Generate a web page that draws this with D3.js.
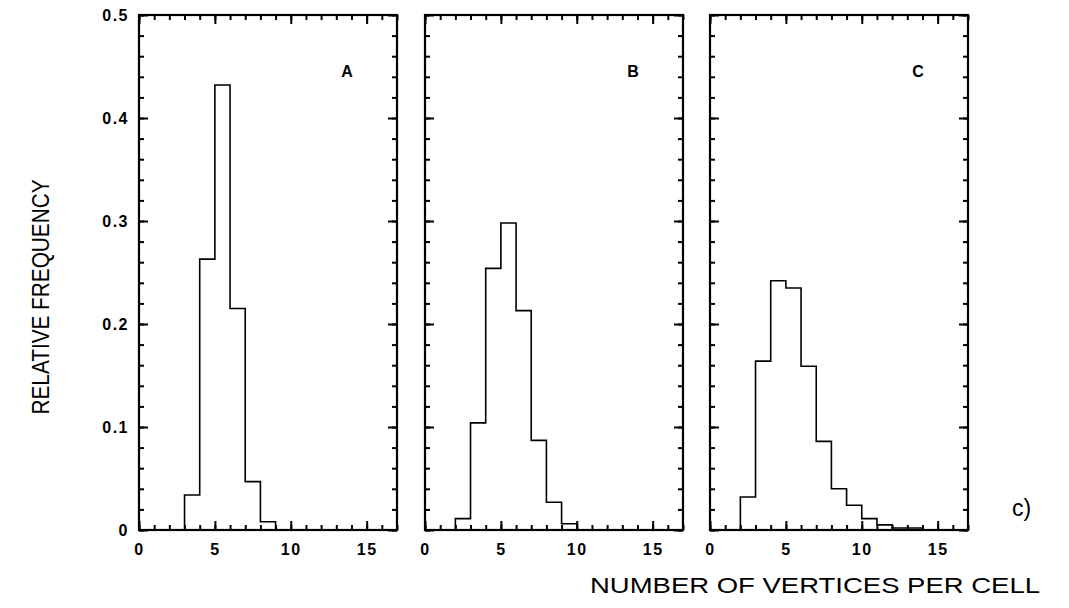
<!DOCTYPE html>
<html>
<head>
<meta charset="utf-8">
<script src="https://cdn.jsdelivr.net/npm/d3@7"></script>
<style>
  body { margin: 0; background: #fff; }
  text { font-family: "Liberation Sans", Arial, sans-serif; fill: #000; }
</style>
</head>
<body>
<svg id="chart"></svg>
<script>
// histogram data, bins are [start, start + 1]
const panelNames = ["A", "B", "C"]

const binsA = [3, 4, 5, 6, 7, 8]
const freqA = [0.034, 0.263, 0.432, 0.215, 0.047, 0.008]

const binsB = [2, 3, 4, 5, 6, 7, 8, 9]
const freqB = [0.011, 0.104, 0.254, 0.298, 0.213, 0.087, 0.027, 0.006]

const binsC = [2, 3, 4, 5, 6, 7, 8, 9, 10, 11, 12, 13]
const freqC = [0.032, 0.164, 0.242, 0.235, 0.159, 0.086, 0.040, 0.024, 0.011, 0.005, 0.002, 0.002]

const xTicks = [0, 5, 10, 15]
const yTicks = [0, 0.1, 0.2, 0.3, 0.4, 0.5]

const width = 1069
const height = 608

const svg = d3.select("#chart").attr("width", width).attr("height", height)

const panelLeft = [139, 425, 710]
const panelWidth = 258
const plotTop = 15, plotBottom = 530

const y = d3.scaleLinear().domain([0, 0.5]).range([plotBottom, plotTop])

const panels = [
	{name: panelNames[0], bins: binsA, freq: freqA},
	{name: panelNames[1], bins: binsB, freq: freqB},
	{name: panelNames[2], bins: binsC, freq: freqC}
]

panels.forEach(function(p, i) {
	const left = panelLeft[i]
	const x = d3.scaleLinear().domain([0, 17]).range([left, left + panelWidth])
	const g = svg.append("g")

	// minor ticks
	const minor = g.append("g").attr("class", "minor")
	minor.append("g").attr("transform", "translate(0," + plotBottom + ")")
		.call(d3.axisBottom(x).ticks(17).tickSize(-5).tickFormat(""))
	minor.append("g").attr("transform", "translate(0," + plotTop + ")")
		.call(d3.axisTop(x).ticks(17).tickSize(-5).tickFormat(""))
	minor.append("g").attr("transform", "translate(" + left + ",0)")
		.call(d3.axisLeft(y).ticks(25).tickSize(-5).tickFormat(""))
	minor.append("g").attr("transform", "translate(" + (left + panelWidth) + ",0)")
		.call(d3.axisRight(y).ticks(25).tickSize(-5).tickFormat(""))

	// major ticks
	const major = g.append("g").attr("class", "major")
	major.append("g").attr("class", "x-axis").attr("transform", "translate(0," + plotBottom + ")")
		.call(d3.axisBottom(x).tickValues(xTicks).tickSize(-9).tickPadding(14))
	major.append("g").attr("transform", "translate(0," + plotTop + ")")
		.call(d3.axisTop(x).tickValues(xTicks).tickSize(-9).tickFormat(""))
	major.append("g").attr("class", "y-axis").attr("transform", "translate(" + left + ",0)")
		.call(d3.axisLeft(y).tickValues(yTicks).tickSize(-9).tickPadding(10)
			.tickFormat(function(d) {
				if (i > 0) return ""
				return d === 0 ? "0" : d3.format(".1f")(d)
			}))
	major.append("g").attr("transform", "translate(" + (left + panelWidth) + ",0)")
		.call(d3.axisRight(y).tickValues(yTicks).tickSize(-9).tickFormat(""))

	g.selectAll(".domain").remove()
	g.selectAll(".tick line").attr("stroke", "#000").attr("stroke-width", 2)
	g.selectAll(".tick text")
		.attr("font-size", 16)
		.attr("font-weight", "bold")
		.attr("letter-spacing", 1.5)
		.style("font-family", "'Liberation Sans', Arial, sans-serif")

	// frame
	g.append("rect")
		.attr("x", left)
		.attr("y", plotTop)
		.attr("width", panelWidth)
		.attr("height", plotBottom - plotTop)
		.attr("fill", "none")
		.attr("stroke", "#000")
		.attr("stroke-width", 2.2)

	// histogram outline
	const pts = [[p.bins[0], 0]]
	p.bins.forEach(function(b, j) { pts.push([b, p.freq[j]]) })
	pts.push([p.bins[p.bins.length - 1] + 1, 0])

	const line = d3.line()
		.x(function(d) { return x(d[0]) })
		.y(function(d) { return y(d[1]) })
		.curve(d3.curveStepAfter)

	g.append("path")
		.datum(pts)
		.attr("d", line)
		.attr("fill", "none")
		.attr("stroke", "#000")
		.attr("stroke-width", 1.6)

	g.append("text")
		.attr("x", x(13.7))
		.attr("y", y(0.44))
		.attr("text-anchor", "middle")
		.attr("font-size", 16)
		.attr("font-weight", "bold")
		.text(p.name)
})

svg.append("text")
	.attr("transform", "translate(49,297) rotate(-90)")
	.attr("text-anchor", "middle")
	.attr("font-size", 23)
	.attr("textLength", 235)
	.attr("lengthAdjust", "spacingAndGlyphs")
	.text("RELATIVE FREQUENCY")

svg.append("text")
	.attr("x", 590)
	.attr("y", 593)
	.attr("font-size", 22)
	.attr("textLength", 450)
	.attr("lengthAdjust", "spacingAndGlyphs")
	.text("NUMBER OF VERTICES PER CELL")

svg.append("text")
	.attr("x", 1012)
	.attr("y", 516)
	.attr("font-size", 23)
	.text("c)")
</script>
</body>
</html>
